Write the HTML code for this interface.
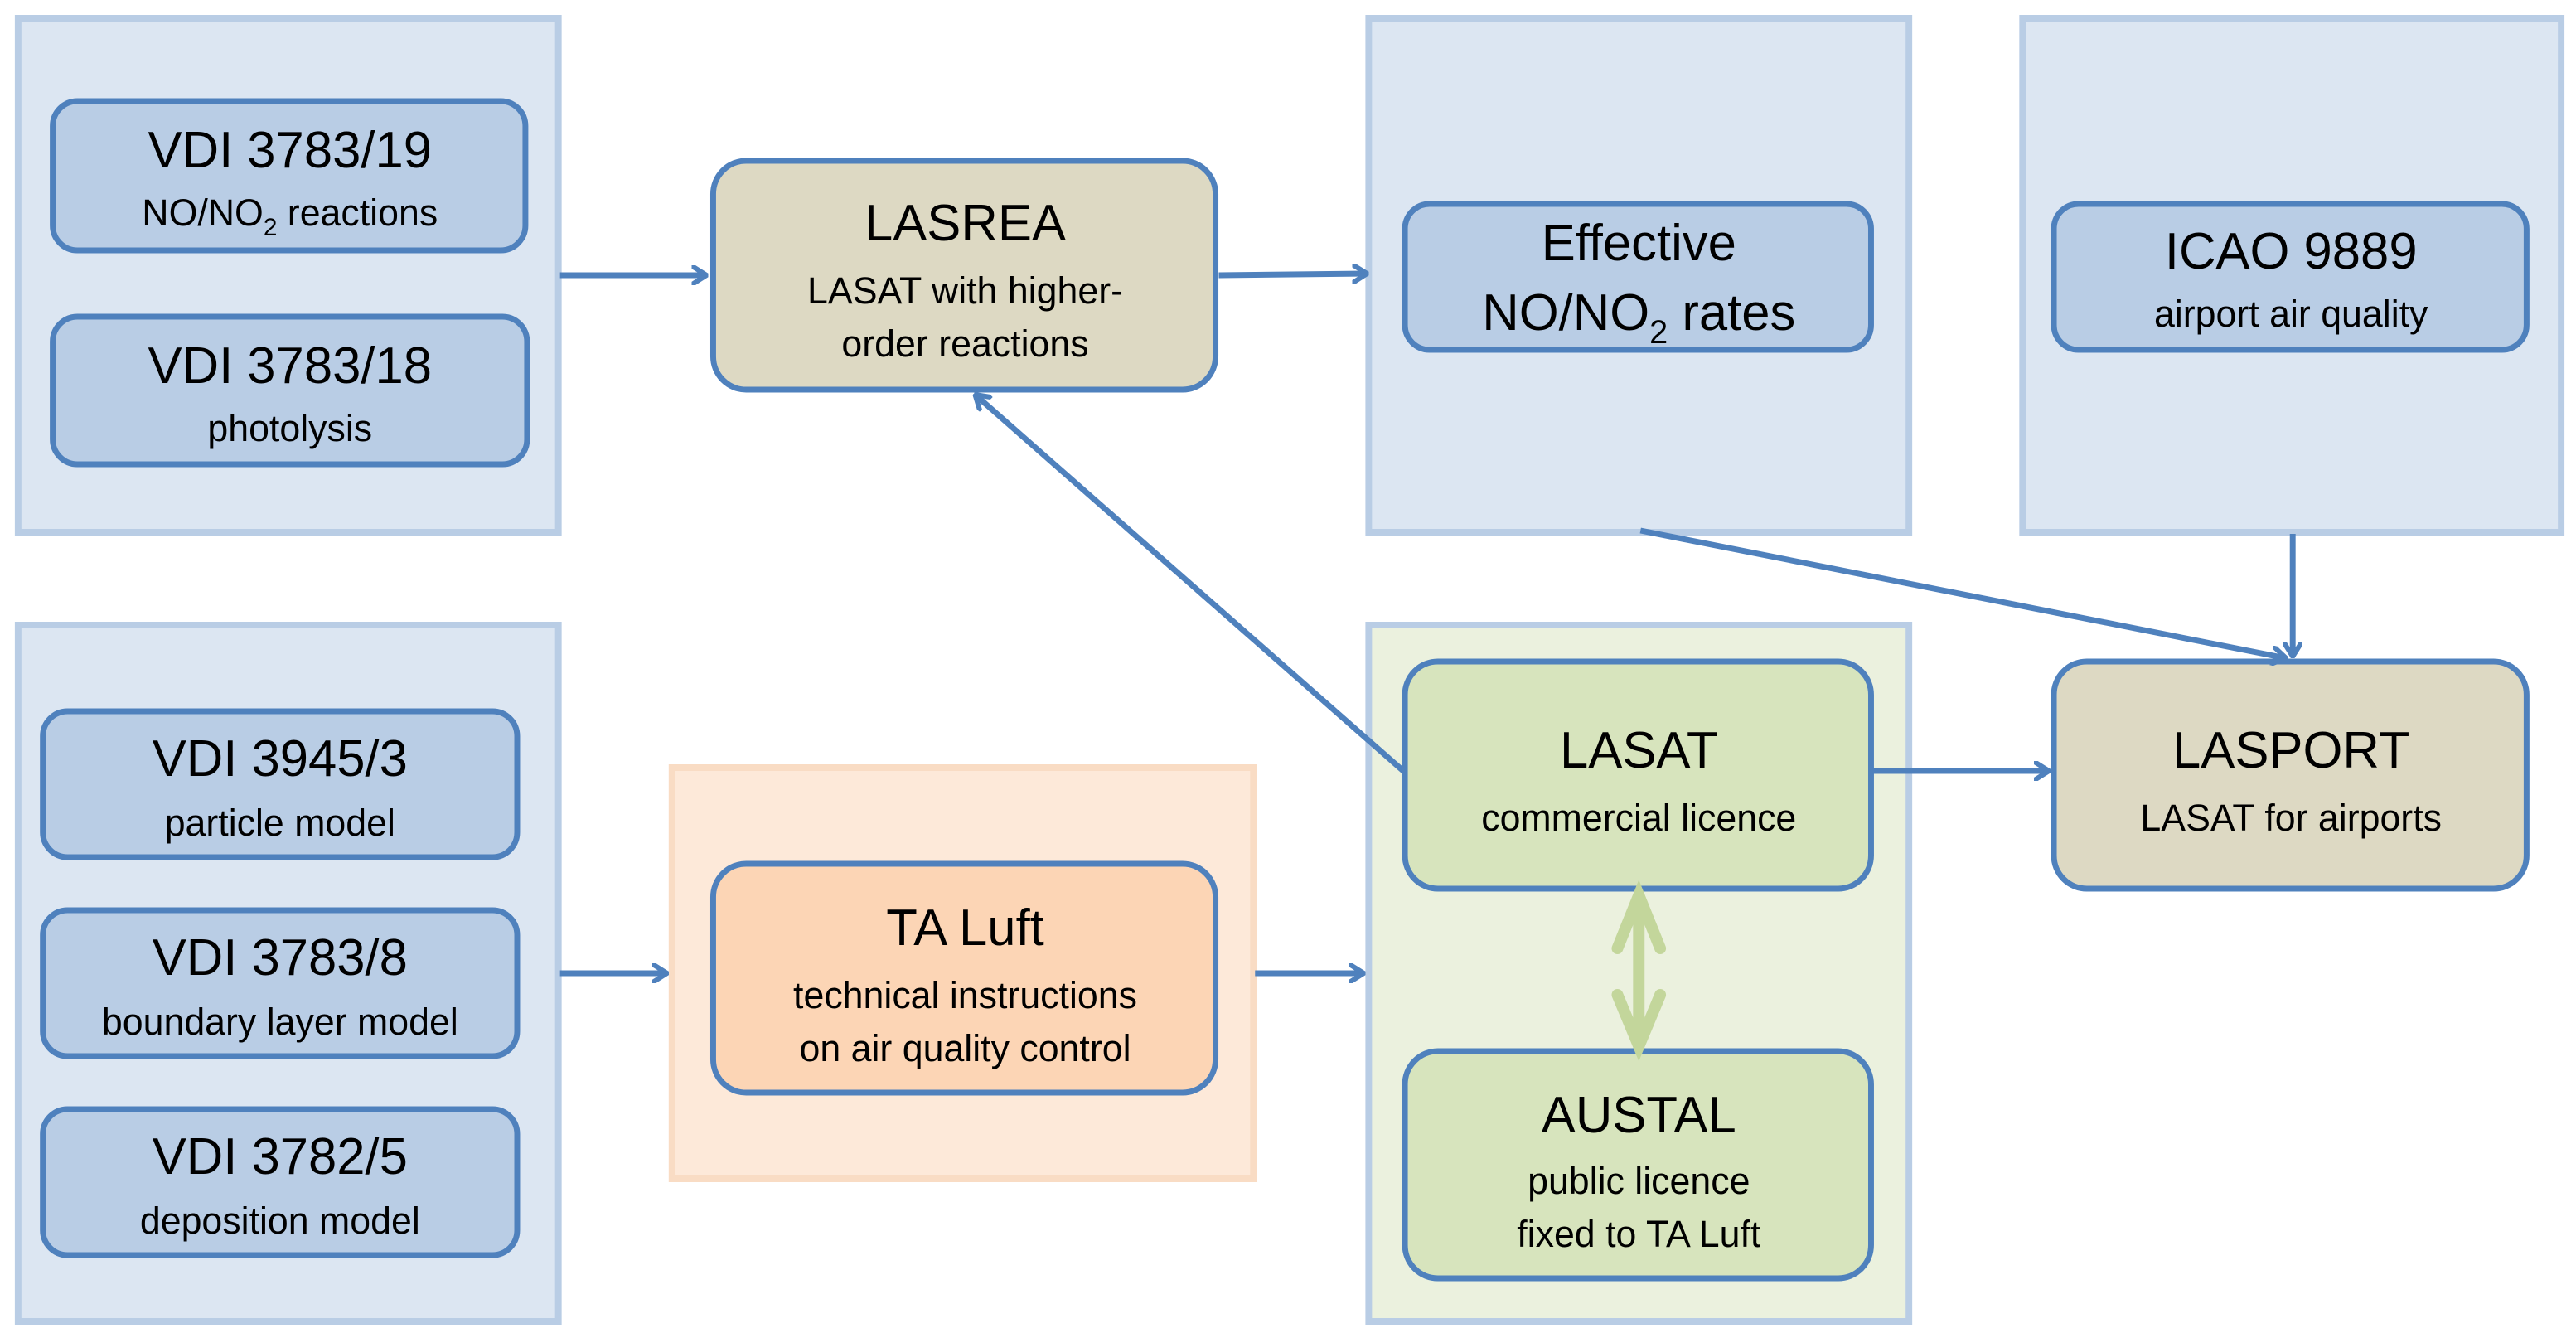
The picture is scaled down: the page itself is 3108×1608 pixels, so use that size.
<!DOCTYPE html>
<html><head><meta charset="utf-8"><style>
html,body{margin:0;padding:0;background:#fff;}
svg{display:block}
text{font-family:"Liberation Sans",sans-serif;fill:#000;text-anchor:middle}
.t{font-size:31px}
.s{font-size:22.5px}
</style></head><body>
<svg width="3108" height="1608" viewBox="0 0 1564 804" preserveAspectRatio="none" xmlns="http://www.w3.org/2000/svg">
<defs>
<marker id="a" markerWidth="10" markerHeight="12" refX="9" refY="6" orient="auto" markerUnits="userSpaceOnUse">
<path d="M1,1 L9,6 L1,11" fill="none" stroke="#4f81bd" stroke-width="3" stroke-linecap="round"/>
</marker>
</defs>
<g stroke="#b9cde5" stroke-width="4">
<rect x="11" y="11" width="328" height="310" fill="#dce6f2"/>
<rect x="831" y="11" width="328" height="310" fill="#dce6f2"/>
<rect x="1228" y="11" width="327" height="310" fill="#dce6f2"/>
<rect x="11" y="377" width="328" height="420" fill="#dce6f2"/>
<rect x="831" y="377" width="328" height="420" fill="#ebf1de"/>
</g>
<rect x="408" y="463" width="353" height="248" fill="#fde9d9" stroke="#f9dcc4" stroke-width="4"/>
<g stroke="#4f81bd" stroke-width="3.5">
<rect x="32" y="61" width="287" height="90" rx="15" fill="#b9cde5"/>
<rect x="32" y="191" width="288" height="89" rx="15" fill="#b9cde5"/>
<rect x="433" y="97" width="305" height="138" rx="20" fill="#ddd9c3"/>
<rect x="853" y="123" width="283" height="88" rx="15" fill="#b9cde5"/>
<rect x="1247" y="123" width="287" height="88" rx="15" fill="#b9cde5"/>
<rect x="26" y="429" width="288" height="88" rx="15" fill="#b9cde5"/>
<rect x="26" y="549" width="288" height="88" rx="15" fill="#b9cde5"/>
<rect x="26" y="669" width="288" height="88" rx="15" fill="#b9cde5"/>
<rect x="433" y="521" width="305" height="138" rx="20" fill="#fcd5b5"/>
<rect x="853" y="399" width="283" height="137" rx="20" fill="#d7e4bd"/>
<rect x="853" y="634" width="283" height="137" rx="20" fill="#d7e4bd"/>
<rect x="1247" y="399" width="287" height="137" rx="20" fill="#ddd9c3"/>
</g>
<g stroke="#4f81bd" stroke-width="3.5" fill="none" marker-end="url(#a)">
<line x1="340" y1="166" x2="429" y2="166"/>
<line x1="740" y1="166" x2="830" y2="165"/>
<line x1="852" y1="465" x2="592" y2="238"/>
<line x1="340" y1="587" x2="405" y2="587"/>
<line x1="762" y1="587" x2="828" y2="587"/>
<line x1="1137" y1="465" x2="1244" y2="465"/>
<line x1="996" y1="320" x2="1388" y2="397"/>
<line x1="1392" y1="322" x2="1392" y2="396"/>
</g>
<g stroke="#c3d69b" stroke-width="7" stroke-linecap="round" fill="none">
<line x1="995" y1="548" x2="995" y2="624"/>
<path d="M982,572 L995,540 L1008,572"/>
<path d="M982,600 L995,631 L1008,600"/>
</g>
<text class="t" x="176" y="101">VDI 3783/19</text>
<text class="s" x="176" y="136">NO/NO<tspan font-size="15" dy="6">2</tspan><tspan dy="-6"> reactions</tspan></text>
<text class="t" x="176" y="231">VDI 3783/18</text>
<text class="s" x="176" y="266">photolysis</text>
<text class="t" x="586" y="145">LASREA</text>
<text class="s" x="586" y="183">LASAT with higher-</text>
<text class="s" x="586" y="215">order reactions</text>
<text class="t" x="995" y="157">Effective</text>
<text class="t" x="995" y="199">NO/NO<tspan font-size="20" dy="8">2</tspan><tspan dy="-8"> rates</tspan></text>
<text class="t" x="1391" y="162">ICAO 9889</text>
<text class="s" x="1391" y="197">airport air quality</text>
<text class="t" x="170" y="468">VDI 3945/3</text>
<text class="s" x="170" y="504">particle model</text>
<text class="t" x="170" y="588">VDI 3783/8</text>
<text class="s" x="170" y="624">boundary layer model</text>
<text class="t" x="170" y="708">VDI 3782/5</text>
<text class="s" x="170" y="744">deposition model</text>
<text class="t" x="586" y="570">TA Luft</text>
<text class="s" x="586" y="608">technical instructions</text>
<text class="s" x="586" y="640">on air quality control</text>
<text class="t" x="995" y="463">LASAT</text>
<text class="s" x="995" y="501">commercial licence</text>
<text class="t" x="995" y="683">AUSTAL</text>
<text class="s" x="995" y="720">public licence</text>
<text class="s" x="995" y="752">fixed to TA Luft</text>
<text class="t" x="1391" y="463">LASPORT</text>
<text class="s" x="1391" y="501">LASAT for airports</text>
</svg>
</body></html>
